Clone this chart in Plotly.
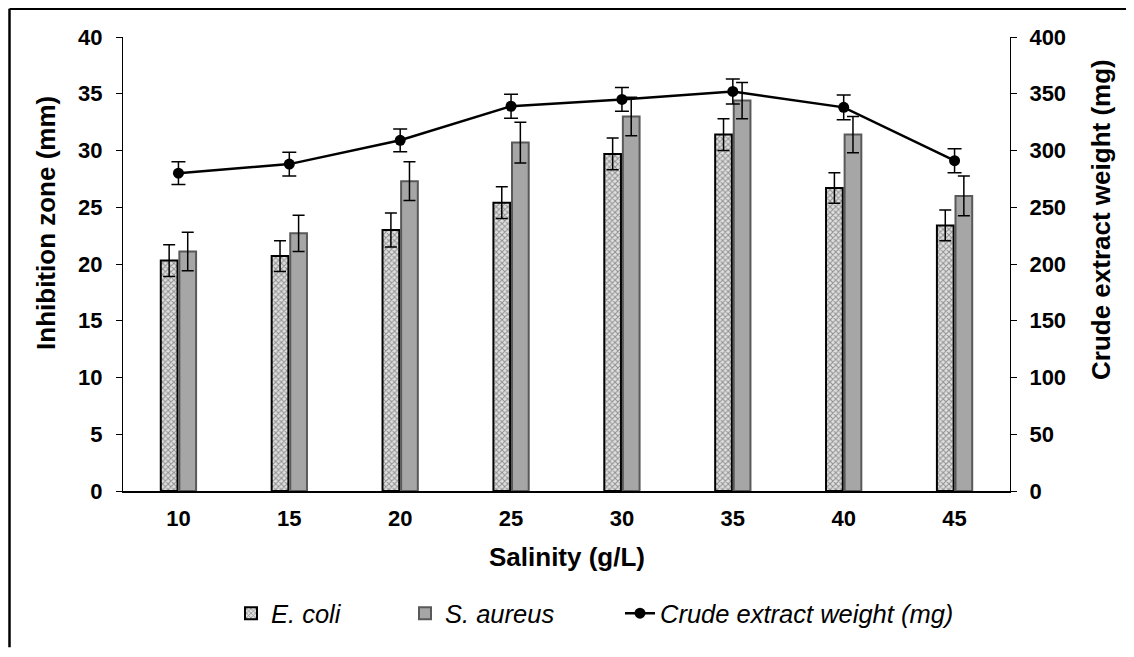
import plotly.graph_objects as go

salinity = ["10", "15", "20", "25", "30", "35", "40", "45"]
ecoli = [20.3, 20.7, 23.0, 25.4, 29.7, 31.4, 26.7, 23.4]
ecoli_err = [1.4, 1.35, 1.5, 1.4, 1.4, 1.4, 1.35, 1.35]
saureus = [21.1, 22.7, 27.3, 30.7, 33.0, 34.4, 31.4, 26.0]
saureus_err = [1.7, 1.6, 1.7, 1.8, 1.7, 1.6, 1.6, 1.75]
crude = [280, 288, 309, 339, 345, 352, 338, 291]
crude_err = [10, 10.5, 10, 10.5, 10.5, 11, 11, 10.5]

x_title = "Salinity (g/L)"
y_title = "Inhibition zone (mm)"
y2_title = "Crude extract weight (mg)"

FONT = "Arial, Liberation Sans, sans-serif"

# figure is drawn inside the page body (8 px margin); geometry in figure pixels
W, H = 1118, 641
PL, PR, PT, PB = 115, 1002, 29, 488


def px2x(px):
    return (px - PL) / (PR - PL)


def px2y(py):
    return (PB - py) / (PB - PT)


fig = go.Figure()
fig.add_trace(go.Bar(
    x=salinity, y=ecoli, name="<i>E. coli</i>", legend="legend",
    marker=dict(color="#c8c8c8",
                pattern=dict(shape="x", fgcolor="#404040", bgcolor="#e0e0e0", size=4, solidity=0.45),
                line=dict(color="black", width=2)),
    error_y=dict(type="data", array=ecoli_err, color="black", thickness=1.5, width=6),
))
fig.add_trace(go.Bar(
    x=salinity, y=saureus, name="<i>S. aureus</i>", legend="legend2",
    marker=dict(color="#a6a6a6", line=dict(color="#595959", width=2)),
    error_y=dict(type="data", array=saureus_err, color="black", thickness=1.5, width=6),
))
fig.add_trace(go.Scatter(
    x=salinity, y=crude, name="<i>" + y2_title + "</i>", yaxis="y2", legend="legend3",
    mode="lines+markers",
    line=dict(color="black", width=2.5),
    marker=dict(color="black", size=11, symbol="circle"),
    error_y=dict(type="data", array=crude_err, color="black", thickness=1.5, width=7),
))

# outer frame (top and left edges visible)
fig.add_shape(type="line", xref="paper", yref="paper",
              x0=px2x(1.5), x1=px2x(W + 5), y0=px2y(0.5), y1=px2y(0.5),
              line=dict(color="black", width=2.5))
fig.add_shape(type="line", xref="paper", yref="paper",
              x0=px2x(1.5), x1=px2x(1.5), y0=px2y(0.5), y1=px2y(H + 5),
              line=dict(color="black", width=2.5))

title_font = dict(family=FONT, size=26, color="black")
# axis titles (placed like the original, slightly above the axis centre)
fig.add_annotation(text="<b>" + y_title + "</b>", xref="paper", yref="paper",
                   x=px2x(38), y=px2y(217), xanchor="center", yanchor="middle",
                   textangle=-90, showarrow=False, font=title_font)
fig.add_annotation(text="<b>" + y2_title + "</b>", xref="paper", yref="paper",
                   x=px2x(1093), y=px2y(214), xanchor="center", yanchor="middle",
                   textangle=-90, showarrow=False, font=title_font)
fig.add_annotation(text="<b>" + x_title + "</b>", xref="paper", yref="paper",
                   x=0.5, y=px2y(555), xanchor="center", yanchor="middle",
                   showarrow=False, font=title_font)

leg_y = px2y(612)
leg_font = dict(family=FONT, size=25.5, color="black")
tick_font = dict(family=FONT, size=22, color="black", weight="bold")

fig.update_layout(
    width=W, height=H,
    margin=dict(l=PL, r=W - PR, t=PT, b=H - PB),
    paper_bgcolor="white", plot_bgcolor="white",
    font=dict(family=FONT, color="black", size=16),
    barmode="group", bargap=0.665, bargroupgap=0.1,
    showlegend=True,
    legend=dict(orientation="h", x=px2x(223), xanchor="left", y=leg_y, yanchor="middle", font=leg_font),
    legend2=dict(orientation="h", x=px2x(397), xanchor="left", y=leg_y, yanchor="middle", font=leg_font),
    legend3=dict(orientation="h", x=px2x(612), xanchor="left", y=leg_y, yanchor="middle", font=leg_font),
    xaxis=dict(
        type="category", showline=True, linecolor="black", linewidth=2,
        ticks="", tickfont=tick_font, ticklabelstandoff=7,
        showgrid=False, zeroline=False,
    ),
    yaxis=dict(
        range=[0, 40], dtick=5, showline=True, linecolor="black", linewidth=1,
        ticks="outside", ticklen=6, tickcolor="black", tickfont=tick_font, ticklabelstandoff=9,
        showgrid=False, zeroline=False,
    ),
    yaxis2=dict(
        range=[0, 400], dtick=50, overlaying="y", side="right",
        showline=True, linecolor="black", linewidth=1,
        ticks="outside", ticklen=6, tickcolor="black", tickfont=tick_font, ticklabelstandoff=8,
        showgrid=False, zeroline=False,
    ),
)

fig.write_html("out.html")
